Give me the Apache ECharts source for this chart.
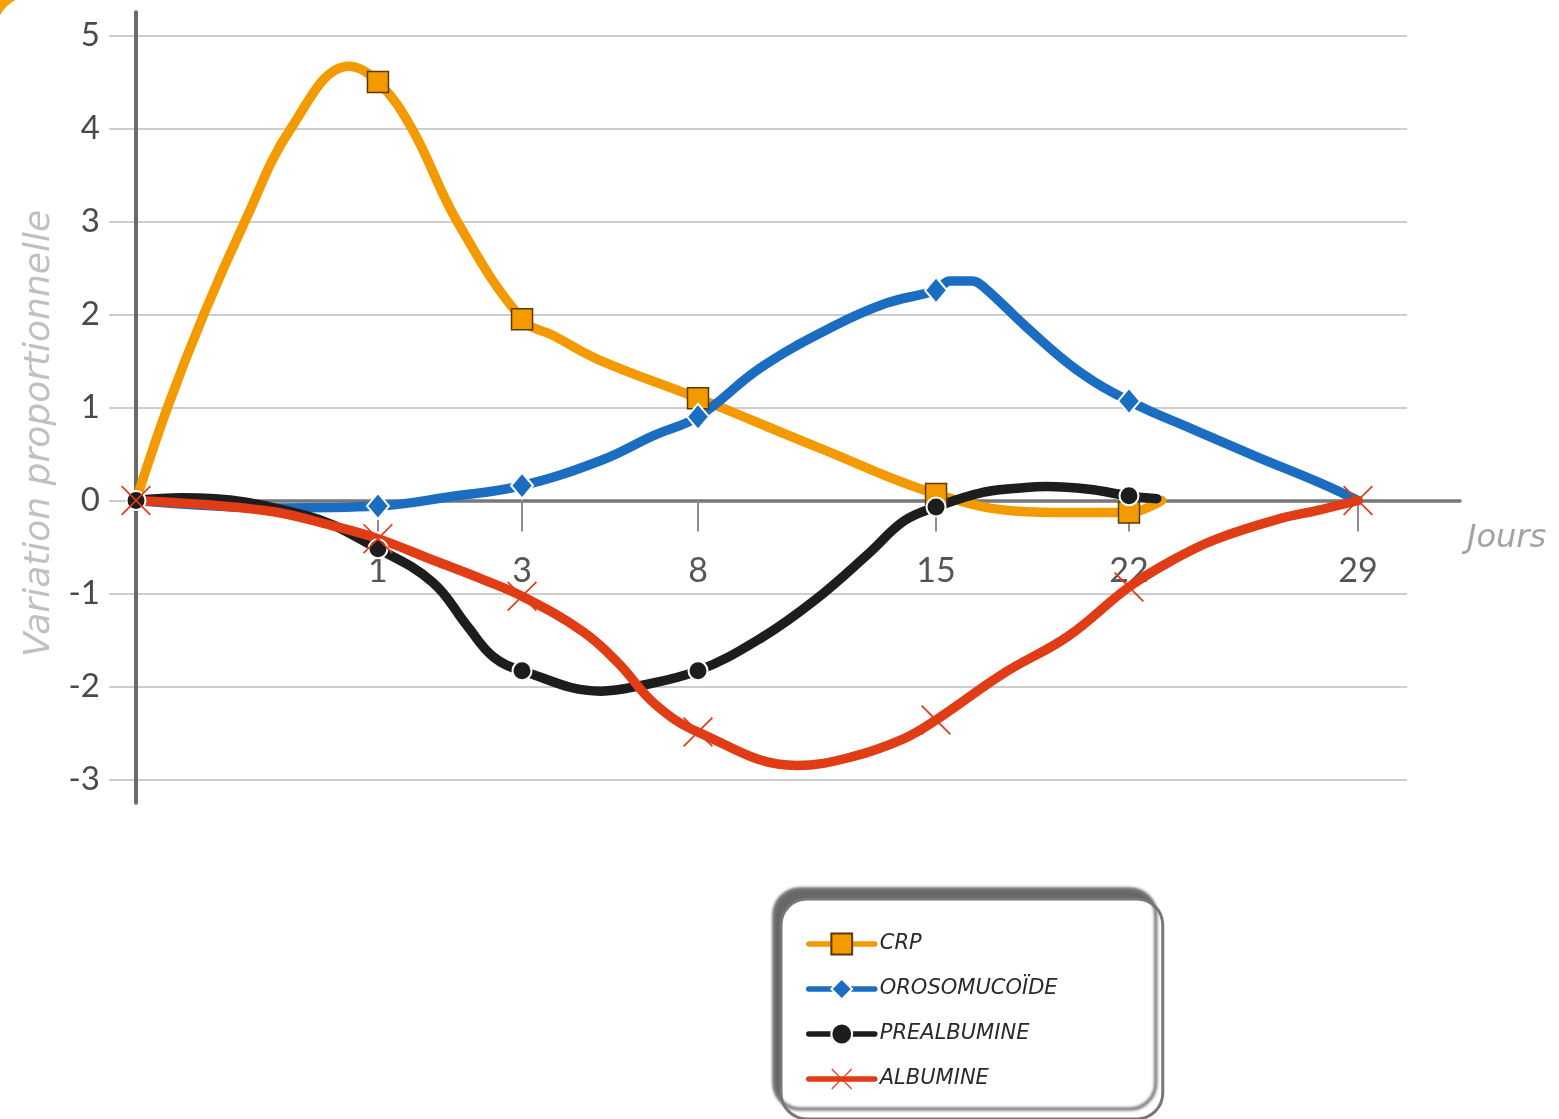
<!DOCTYPE html>
<html>
<head>
<meta charset="utf-8">
<style>
  html, body { margin: 0; padding: 0; background: #fff; }
  #chart { width: 1559px; height: 1119px; }
</style>
<script src="https://cdn.jsdelivr.net/npm/echarts@6/dist/echarts.min.js"></script>
</head>
<body>
<div id="chart"></div>
<script>
// Days that carry a tick on the time axis
const dayTicks = [0, 1, 3, 8, 15, 22, 29];
// Place of each tick day along the (unevenly spaced) time axis, in axis units
const tickSlots = [0, 1.980, 3.159, 4.599, 6.547, 8.126, 10.0];

const seriesNames = ['CRP', 'OROSOMUCOÏDE', 'PREALBUMINE', 'ALBUMINE'];

// CRP
const crpDays   = [0, 0.13, 0.28, 0.45, 0.64, 0.88, 1, 1.47, 2.1, 3, 3.91, 5.2, 8, 11.6, 15, 18.3, 20.5, 22, 23.0];
const crpValues = [0, 1.0, 2.0, 3.0, 4.0, 4.67, 4.5, 4.0, 3.0, 1.95, 1.77, 1.51, 1.1, 0.56, 0.07, -0.12, -0.13, -0.13, 0];
const crpMeasured = [1, 3, 8, 15, 22];

// Orosomucoïde
const orosoDays   = [0, 0.6, 1, 2.0, 3, 5.24, 6.75, 8, 9.85, 11.97, 13.53, 15, 15.5, 16.3, 16.75, 18.26, 20.08, 22, 23.99, 25.91, 27.84, 29];
const orosoValues = [0, -0.08, -0.06, 0.04, 0.16, 0.43, 0.70, 0.90, 1.43, 1.87, 2.12, 2.26, 2.36, 2.36, 2.29, 1.87, 1.41, 1.07, 0.76, 0.47, 0.19, 0];
const orosoMeasured = [1, 3, 8, 15, 22];

// Préalbumine
const prealbDays   = [0, 0.19, 0.7, 1, 1.76, 2.24, 2.6, 3, 5.24, 6.24, 8, 9.85, 11.44, 13.02, 14.06, 15, 16.74, 18.26, 19.02, 20.55, 22, 22.85];
const prealbValues = [0, 0.03, -0.16, -0.52, -0.88, -1.35, -1.68, -1.83, -2.05, -2.0, -1.83, -1.48, -1.07, -0.57, -0.22, -0.07, 0.09, 0.14, 0.15, 0.12, 0.05, 0.02];
const prealbMeasured = [0, 1, 3, 8, 15, 22];

// Albumine
const albDays   = [0, 0.54, 0.81, 1, 1.76, 2.46, 3, 4.73, 5.74, 6.75, 8, 10.91, 12.49, 14.06, 15, 17.5, 19.79, 22, 23.34, 24.63, 26.56, 27.84, 29];
const albValues = [0, -0.11, -0.27, -0.41, -0.64, -0.85, -1.03, -1.41, -1.75, -2.18, -2.49, -2.85, -2.76, -2.56, -2.36, -1.85, -1.46, -0.93, -0.64, -0.42, -0.2, -0.1, 0];
const albMeasured = [0, 1, 3, 8, 15, 22, 29];

// ---- layout of the plot ----
const UNIT_PX = 122.2;             // pixels per time-axis unit
const PLOT_LEFT = 109, PLOT_TOP = 35.5, PLOT_W = 1298, PLOT_H = 744;
const ORIGIN_X = 136;              // where day 0 sits
const AXIS_END_X = 1460;           // end of the drawn time axis
const Y_MIN = -3, Y_MAX = 5;
const Y_PX = PLOT_H / (Y_MAX - Y_MIN);
const ZERO_Y = PLOT_TOP + Y_MAX * Y_PX;
const AXIS_OVERHANG = 0.25;        // value axis line runs a bit past the grid
const FRAME_TOP = PLOT_TOP - AXIS_OVERHANG * Y_PX;
const FRAME_H = PLOT_H + 2 * AXIS_OVERHANG * Y_PX;

// piecewise-linear placement of a day on the uneven time axis
function dayToSlot(d) {
  for (let i = 1; i < dayTicks.length; i++) {
    if (d <= dayTicks[i]) {
      const t = (d - dayTicks[i - 1]) / (dayTicks[i] - dayTicks[i - 1]);
      return tickSlots[i - 1] + t * (tickSlots[i] - tickSlots[i - 1]);
    }
  }
  return tickSlots[tickSlots.length - 1];
}
function slotLabel(v) {
  for (let i = 0; i < tickSlots.length; i++) {
    if (Math.abs(tickSlots[i] - v) < 1e-6) return String(dayTicks[i]);
  }
  return '';
}
function buildData(days, values, measured) {
  return days.map((d, i) => {
    const item = { value: [dayToSlot(d), values[i]] };
    if (measured.indexOf(d) < 0) item.symbol = 'none';
    return item;
  });
}

const NUM_FONT = 'Lato';
const TEXT_FONT = 'DejaVu Sans';
const crossPath = 'path://M0,1.2 L1.2,0 L15,13.8 L28.8,0 L30,1.2 L16.2,15 L30,28.8 L28.8,30 L15,16.2 L1.2,30 L0,28.8 L13.8,15 Z';

function lineSeries(name, days, values, measured, color, symbol, symbolSize, itemStyle) {
  return {
    type: 'line',
    name: name,
    xAxisIndex: 0,
    yAxisIndex: 0,
    smooth: 0.4,
    showAllSymbol: true,
    symbol: symbol,
    symbolSize: symbolSize,
    lineStyle: { color: color, width: 9.5, cap: 'round', join: 'round' },
    itemStyle: itemStyle,
    emphasis: { disabled: true },
    data: buildData(days, values, measured)
  };
}

// legend box width follows its widest entry
const LEGEND_FONT_SIZE = 21;
const measureCtx = document.createElement('canvas').getContext('2d');
measureCtx.font = 'italic ' + LEGEND_FONT_SIZE + 'px "' + TEXT_FONT + '"';
const legendTextW = Math.max.apply(null, seriesNames.map(n => measureCtx.measureText(n).width));
const LEGEND_LEFT = 781, LEGEND_TOP = 899, LEGEND_W = 379;
const LEGEND_ITEM_W = 66, LEGEND_PAD_L = 25;
const legendPadR = Math.max(10, LEGEND_W - LEGEND_PAD_L - (LEGEND_ITEM_W + 5 + legendTextW));

const chart = echarts.init(document.getElementById('chart'), null, { renderer: 'canvas' });

chart.setOption({
  animation: false,
  backgroundColor: '#F4A10C',
  graphic: [{
    type: 'rect',
    z: -10,
    silent: true,
    shape: { x: -4, y: -4, width: 1620, height: 1180, r: [36, 0, 0, 0] },
    style: { fill: '#ffffff' }
  }],
  grid: [
    // plotting area
    { left: PLOT_LEFT, top: PLOT_TOP, width: PLOT_W, height: PLOT_H },
    // time axis, drawn along the zero line
    { left: ORIGIN_X, top: FRAME_TOP, width: AXIS_END_X - ORIGIN_X, height: ZERO_Y - FRAME_TOP },
    // value axis line
    { left: ORIGIN_X, top: FRAME_TOP, width: AXIS_END_X - ORIGIN_X, height: FRAME_H }
  ],
  xAxis: [
    {
      gridIndex: 0,
      type: 'value',
      show: false,
      min: -(ORIGIN_X - PLOT_LEFT) / UNIT_PX,
      max: (PLOT_LEFT + PLOT_W - ORIGIN_X) / UNIT_PX
    },
    {
      gridIndex: 1,
      type: 'value',
      position: 'bottom',
      min: 0,
      max: (AXIS_END_X - ORIGIN_X) / UNIT_PX,
      axisLine: { show: true, onZero: false, lineStyle: { color: '#777777', width: 3.5 } },
      axisTick: {
        show: true,
        customValues: tickSlots.slice(1),
        length: 31,
        lineStyle: { color: '#8c8c8c', width: 2 }
      },
      axisLabel: {
        show: true,
        customValues: tickSlots.slice(1),
        formatter: slotLabel,
        margin: 54,
        fontFamily: NUM_FONT,
        fontSize: 34,
        color: '#555555'
      },
      splitLine: { show: false },
      name: 'Jours',
      nameLocation: 'end',
      nameGap: 7,
      nameTextStyle: {
        fontFamily: TEXT_FONT,
        fontStyle: 'italic',
        fontSize: 32,
        color: '#a3a3a3',
        verticalAlign: 'top',
        padding: [22, 0, 0, 0]
      }
    },
    { gridIndex: 2, type: 'value', show: false, min: 0, max: 1 }
  ],
  yAxis: [
    {
      gridIndex: 0,
      type: 'value',
      min: Y_MIN,
      max: Y_MAX,
      interval: 1,
      axisLine: { show: false, onZero: false },
      axisTick: { show: false },
      axisLabel: {
        margin: 9,
        fontFamily: NUM_FONT,
        fontSize: 33,
        color: '#4a4a4a'
      },
      splitLine: { show: true, lineStyle: { color: '#cdcdcd', width: 2.2 } },
      name: 'Variation proportionnelle',
      nameLocation: 'middle',
      nameRotate: 90,
      nameGap: 51,
      nameTextStyle: {
        fontFamily: TEXT_FONT,
        fontStyle: 'italic',
        fontSize: 36,
        color: '#c0c0c0',
        padding: [0, 52, 0, 0]
      }
    },
    { gridIndex: 1, type: 'value', show: false, min: 0, max: 1 },
    {
      gridIndex: 2,
      type: 'value',
      min: Y_MIN - AXIS_OVERHANG,
      max: Y_MAX + AXIS_OVERHANG,
      axisLine: { show: true, onZero: false, lineStyle: { color: '#6a6a6a', width: 4 } },
      axisTick: { show: false },
      axisLabel: { show: false },
      splitLine: { show: false }
    }
  ],
  legend: {
    orient: 'vertical',
    left: LEGEND_LEFT,
    top: LEGEND_TOP,
    padding: [33, legendPadR, 28, LEGEND_PAD_L],
    itemWidth: LEGEND_ITEM_W,
    itemHeight: 26,
    itemGap: 21,
    backgroundColor: '#ffffff',
    borderColor: '#777777',
    borderWidth: 3,
    borderRadius: 26,
    shadowColor: 'rgba(95,95,95,0.95)',
    shadowBlur: 3,
    shadowOffsetX: -7,
    shadowOffsetY: -10,
    lineStyle: { width: 5.5 },
    selectedMode: false,
    textStyle: {
      fontFamily: TEXT_FONT,
      fontStyle: 'italic',
      fontSize: LEGEND_FONT_SIZE,
      lineHeight: 24,
      color: '#2a2a2a'
    },
    data: seriesNames
  },
  series: [
    lineSeries(seriesNames[0], crpDays, crpValues, crpMeasured, '#F39A00', 'rect', 21,
      { color: '#F39A00', borderColor: '#5a3a05', borderWidth: 1.5 }),
    lineSeries(seriesNames[1], orosoDays, orosoValues, orosoMeasured, '#1A6DC0', 'diamond', [22, 26],
      { color: '#1A6DC0', borderColor: '#ffffff', borderWidth: 2 }),
    lineSeries(seriesNames[2], prealbDays, prealbValues, prealbMeasured, '#1d1d1d', 'circle', 19,
      { color: '#1d1d1d', borderColor: '#ffffff', borderWidth: 2 }),
    lineSeries(seriesNames[3], albDays, albValues, albMeasured, '#E03C16', crossPath, 30,
      { color: '#E03C16', borderWidth: 0 })
  ]
});
</script>
</body>
</html>
